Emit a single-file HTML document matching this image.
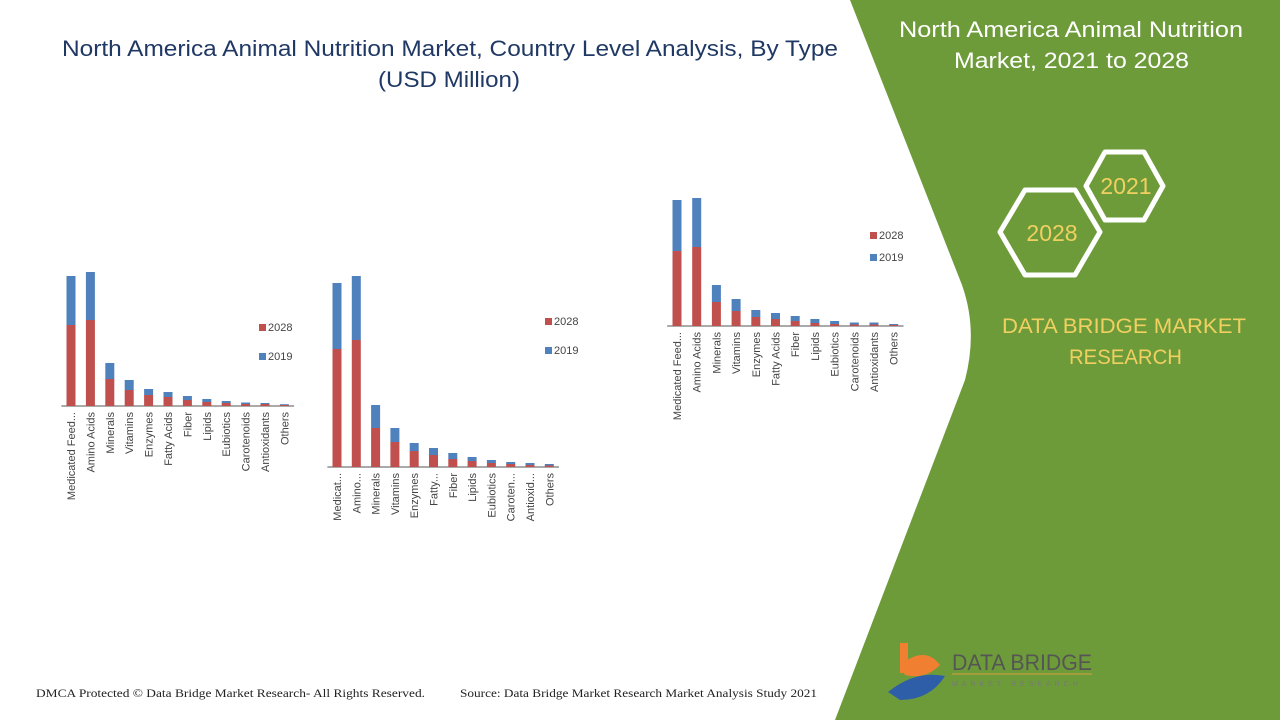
<!DOCTYPE html>
<html><head><meta charset="utf-8"><style>
body{margin:0;width:1280px;height:720px;overflow:hidden;background:#fff;font-family:"Liberation Sans",sans-serif}
svg{position:absolute;left:0;top:0}
</style></head><body>
<svg id="s" width="1280" height="720" viewBox="0 0 1280 720">
<path d="M850,0 L1280,0 L1280,720 L835,720 L965,380 Q978,330 962,285 Z" fill="#6e9b3a"/>
<text font-size="22" fill="#1f3864" font-family="Liberation Sans,sans-serif"><tspan x="62" y="56" textLength="776" lengthAdjust="spacingAndGlyphs">North America Animal Nutrition Market, Country Level Analysis, By Type</tspan><tspan x="378" y="87" textLength="142" lengthAdjust="spacingAndGlyphs">(USD Million)</tspan></text>
<text font-size="22" fill="#fff"><tspan x="899" y="37" textLength="344" lengthAdjust="spacingAndGlyphs">North America Animal Nutrition</tspan><tspan x="954" y="68" textLength="235" lengthAdjust="spacingAndGlyphs">Market, 2021 to 2028</tspan></text>
<polygon points="1025,190 1075,190 1100,232 1075,275 1025,275 1000,232" fill="none" stroke="#fff" stroke-width="5" stroke-linejoin="round"/>
<polygon points="1105,152 1144,152 1163,186 1144,220 1105,220 1086,186" fill="none" stroke="#fff" stroke-width="5" stroke-linejoin="round"/>
<text x="1052" y="241" font-size="23" fill="#f0d060" text-anchor="middle">2028</text>
<text x="1126" y="194" font-size="23" fill="#f0d060" text-anchor="middle">2021</text>
<text font-size="21" fill="#f0d060"><tspan x="1002" y="333" textLength="244" lengthAdjust="spacingAndGlyphs">DATA BRIDGE MARKET</tspan><tspan x="1069" y="364" textLength="113" lengthAdjust="spacingAndGlyphs">RESEARCH</tspan></text>
<g>
<rect x="900" y="643" width="8" height="30" fill="#f07f32"/>
<path d="M900,665 Q925,645 940,665 Q925,680 905,675 Z" fill="#f07f32"/>
<path d="M888,692 Q915,670 945,676 Q930,700 900,700 Z" fill="#2e5ea8"/>
<text x="952" y="670" font-size="22" fill="#555" textLength="140" lengthAdjust="spacingAndGlyphs">DATA BRIDGE</text>
<line x1="952" y1="674" x2="1092" y2="674" stroke="#d8a040" stroke-width="1"/>
<text x="952" y="686" font-size="7" fill="#777" letter-spacing="4">MARKET RESEARCH</text>
</g>
<text x="36" y="697" font-size="12" fill="#222" font-family="Liberation Serif,serif" textLength="389" lengthAdjust="spacingAndGlyphs">DMCA Protected © Data Bridge Market Research- All Rights Reserved.</text>
<text x="460" y="697" font-size="12" fill="#222" font-family="Liberation Serif,serif" textLength="357" lengthAdjust="spacingAndGlyphs">Source: Data Bridge Market Research Market Analysis Study 2021</text>
<g id="charts"></g>
</svg>
<script>
const categories=["Medicated Feed...","Amino Acids","Minerals","Vitamins","Enzymes","Fatty Acids","Fiber","Lipids","Eubiotics","Carotenoids","Antioxidants","Others"];
const categoriesShort=["Medicat...","Amino...","Minerals","Vitamins","Enzymes","Fatty...","Fiber","Lipids","Eubiotics","Caroten...","Antioxid...","Others"];
const c1v2028=[81,86,27,16,11,9,6,4,3,2,2,1];
const c1v2019=[49,48,16,10,6,5,4,3,2,1.5,1,0.8];
const c2v2028=[118,127,39,25,16,12,8,6,4,3,2,1.5];
const c2v2019=[66,64,23,14,8,7,6,4,3,2,2,1.5];
const c3v2028=[75,79,24,15,9,7,5,3,2,1.5,1.5,1];
const c3v2019=[51,49,17,12,7,6,5,4,3,2,2,1];
const legendLabels=["2028","2019"];
const NS="http://www.w3.org/2000/svg";
const root=document.getElementById('charts');
function el(t,a,p){const e=document.createElementNS(NS,t);for(const k in a)e.setAttribute(k,a[k]);(p||root).appendChild(e);return e;}
function chart(name,cfg,cats,r,b){
  const g=el('g',{});
  
  
  const y=v=>cfg.base-v*cfg.k;
  const x=i=>cfg.x0+i*cfg.step;
  el('line',{x1:cfg.x0-cfg.step/2,x2:x(cats.length-1)+cfg.step/2,y1:cfg.base,y2:cfg.base,stroke:'#555','stroke-width':1},g);
  cats.forEach((c,i)=>{
    const rr=el('rect',{x:x(i)-4.5,y:y(r[i]),width:9,height:r[i]*cfg.k,fill:'#c0504d'},g);
    
    
    const bb=el('rect',{x:x(i)-4.5,y:y(r[i]+b[i]),width:9,height:b[i]*cfg.k,fill:'#4f81bd'},g);
    
    
    const t=el('text',{transform:`translate(${x(i)+4},${cfg.base+6}) rotate(-90)`,'text-anchor':'end','font-size':11,fill:'#444'},g);
    t.textContent=c;
    
    
  });
  legendLabels.forEach((l,j)=>{
    const ly=cfg.ly+j*cfg.lg;
    el('rect',{x:cfg.lx,y:ly-6,width:7,height:7,fill:j?'#4f81bd':'#c0504d'},g);
    const t=el('text',{x:cfg.lx+9,y:ly+1,'font-size':11,fill:'#444'},g);
    t.textContent=l;
    
    
  });
}
chart('chart-1',{x0:71,step:19.4,base:406,k:1,lx:259,ly:330,lg:29},categories,c1v2028,c1v2019);
chart('chart-2',{x0:337,step:19.3,base:467,k:1,lx:545,ly:324,lg:29},categoriesShort,c2v2028,c2v2019);
chart('chart-3',{x0:677,step:19.7,base:326,k:1,lx:870,ly:238,lg:22},categories,c3v2028,c3v2019);
</script>
</body></html>
